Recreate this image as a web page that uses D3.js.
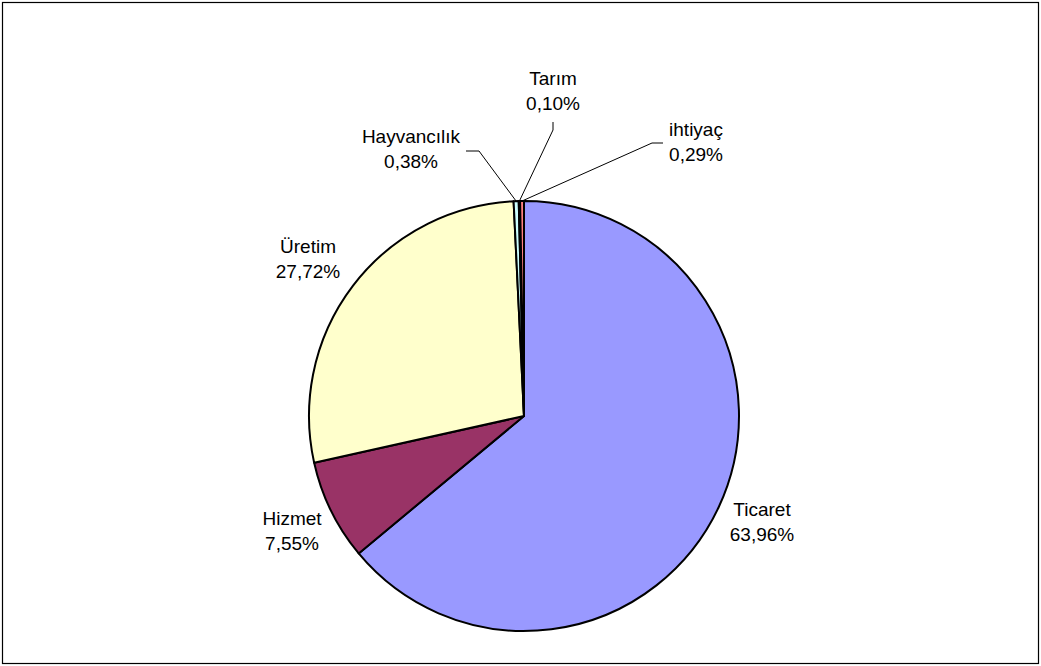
<!DOCTYPE html>
<html>
<head>
<meta charset="utf-8">
<script src="https://cdn.jsdelivr.net/npm/d3@7"></script>
<style>
  html, body { margin: 0; padding: 0; background: #fff; }
  svg { display: block; }
  text { font-family: "Liberation Sans", Arial, sans-serif; font-size: 19px; fill: #000; }
</style>
</head>
<body>
<svg id="chart" width="1041" height="666"></svg>
<script>
// Data
const categories = ["Ticaret", "Hizmet", "Üretim", "Hayvancılık", "Tarım", "ihtiyaç"];
const values = [63.96, 7.55, 27.72, 0.38, 0.10, 0.29];
const valueLabels = ["63,96%", "7,55%", "27,72%", "0,38%", "0,10%", "0,29%"];
const colors = ["#9999FF", "#993366", "#FFFFCC", "#CCFFFF", "#660066", "#FF8080"];

// Layout (label anchor: x = text center, y = first-line baseline)
const labelPos = [
  {x: 762, y: 516},
  {x: 292, y: 525},
  {x: 308, y: 253},
  {x: 411, y: 143},
  {x: 553, y: 85},
  {x: 696, y: 136}
];
// Leader elbows for small slices
const leaders = {
  3: [[479, 151], [466, 151]],
  4: [[553, 130], [553, 122]],
  5: [[652, 143], [663, 143]]
};

const svg = d3.select("#chart");
const W = 1041, H = 666;

svg.append("rect")
  .attr("x", 2.5).attr("y", 2.5)
  .attr("width", W - 5).attr("height", H - 5)
  .attr("fill", "#fff").attr("stroke", "#000").attr("stroke-width", 1.2);

const cx = 524, cy = 416, r = 215;
const g = svg.append("g").attr("transform", `translate(${cx},${cy})`);

const data = categories.map((c, i) => ({name: c, value: values[i], label: valueLabels[i], color: colors[i], i}));
const pie = d3.pie().value(d => d.value).sort(null).startAngle(0).endAngle(2 * Math.PI);
const arcs = pie(data);
const arc = d3.arc().innerRadius(0).outerRadius(r);

g.selectAll("path.slice")
  .data(arcs)
  .join("path")
  .attr("class", "slice")
  .attr("d", arc)
  .attr("fill", d => d.data.color)
  .attr("stroke", "#000")
  .attr("stroke-width", 2)
  .attr("stroke-linejoin", "round");

// Leader lines
arcs.forEach(a => {
  const L = leaders[a.data.i];
  if (!L) return;
  const mid = (a.startAngle + a.endAngle) / 2;
  const sx = cx + Math.sin(mid) * r;
  const sy = cy - Math.cos(mid) * r;
  const pts = [[sx, sy], ...L];
  svg.append("path")
    .attr("d", d3.line()(pts))
    .attr("fill", "none")
    .attr("stroke", "#000")
    .attr("stroke-width", 1);
});

// Labels
arcs.forEach(a => {
  const p = labelPos[a.data.i];
  const t = svg.append("text").attr("text-anchor", "middle");
  t.append("tspan").attr("x", p.x).attr("y", p.y).text(a.data.name);
  t.append("tspan").attr("x", p.x).attr("y", p.y + 25).text(a.data.label);
});
</script>
</body>
</html>
